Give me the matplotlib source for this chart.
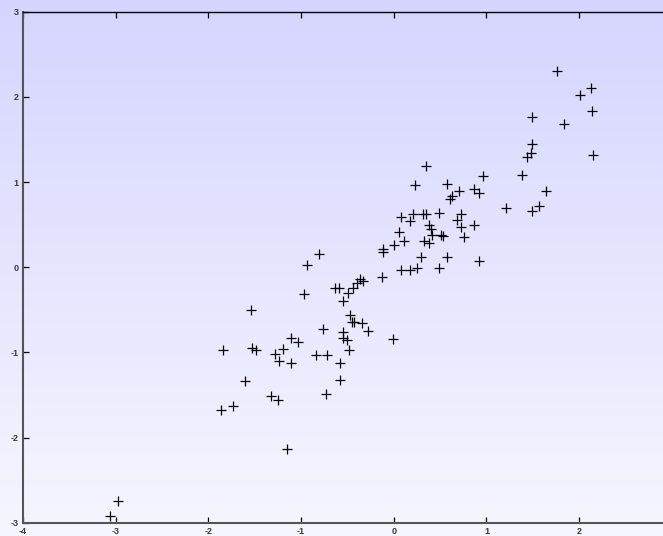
import numpy as np
import matplotlib
matplotlib.use("Agg")
import matplotlib.pyplot as plt

x_vals = [-3.06, -2.97, -1.86, -1.73, -1.84, -1.54, -1.53, -1.49, -1.60, -1.28,
          -1.24, -1.19, -1.11, -1.11, -1.03, -1.33, -1.25, -1.15, -0.97, -0.94,
          -0.81, -0.76, -0.84, -0.72, -0.73, -0.63, -0.59, -0.58, -0.58, -0.49,
          -0.44, -0.40, -0.37, -0.33, -0.55, -0.47, -0.45, -0.43, -0.34, -0.28,
          -0.55, -0.55, -0.51, -0.48, -0.01, -0.13, -0.12, -0.12, 0.00, 0.11,
          0.06, 0.08, 0.21, 0.17, 0.32, 0.35, 0.49, 0.72, 0.68, 0.86,
          0.72, 0.76, 0.38, 0.40, 0.41, 0.51, 0.53, 0.33, 0.38, 0.29,
          0.57, 0.92, 0.08, 0.17, 0.25, 0.49, 0.35, 0.96, 1.38, 0.23,
          0.57, 0.70, 0.86, 0.92, 0.63, 0.61, 1.64, 1.21, 1.57, 1.49,
          1.49, 1.48, 1.44, 2.15, 1.76, 2.13, 2.01, 2.14, 1.49, 1.84]
y_vals = [-2.92, -2.75, -1.68, -1.63, -0.97, -0.50, -0.95, -0.97, -1.34, -1.02,
          -1.10, -0.96, -0.83, -1.12, -0.88, -1.51, -1.56, -2.13, -0.31, 0.03,
          0.15, -0.73, -1.03, -1.03, -1.49, -0.24, -0.24, -1.12, -1.32, -0.30,
          -0.24, -0.19, -0.14, -0.16, -0.40, -0.56, -0.64, -0.64, -0.65, -0.75,
          -0.76, -0.83, -0.85, -0.97, -0.84, -0.12, 0.21, 0.18, 0.26, 0.31,
          0.41, 0.59, 0.62, 0.54, 0.62, 0.62, 0.64, 0.62, 0.55, 0.50,
          0.47, 0.35, 0.50, 0.45, 0.38, 0.38, 0.37, 0.31, 0.28, 0.12,
          0.12, 0.07, -0.03, -0.03, -0.01, -0.01, 1.19, 1.07, 1.08, 0.97,
          0.98, 0.89, 0.92, 0.87, 0.84, 0.80, 0.89, 0.70, 0.72, 0.66,
          1.45, 1.34, 1.29, 1.32, 2.30, 2.10, 2.02, 1.83, 1.76, 1.68]
x_ticks = [-4, -3, -2, -1, 0, 1, 2]
y_ticks = [-3, -2, -1, 0, 1, 2, 3]

plt.rcParams["font.family"] = ["Liberation Sans", "DejaVu Sans"]
plt.rcParams["axes.unicode_minus"] = False

W, H = 663, 536
fig = plt.figure(figsize=(W / 100, H / 100), dpi=100)

# background gradient over the whole figure
bg = fig.add_axes([0, 0, 1, 1], zorder=0)
top = np.array([213, 213, 255]) / 255.0
bot = np.array([246, 246, 255]) / 255.0
t = np.linspace(0, 1, 256)[:, None]
grad = (top[None, :] * (1 - t) + bot[None, :] * t)[:, None, :]
bg.imshow(grad, aspect="auto", extent=[0, 1, 0, 1], interpolation="bilinear")
bg.set_axis_off()

left_px, right_px = 23, 23 + 7 * 92.7
top_px, bot_px = 11.7, 522.7
ax = fig.add_axes([left_px / W, (H - bot_px) / H, (right_px - left_px) / W, (bot_px - top_px) / H], zorder=1)
ax.patch.set_alpha(0)

ax.plot(x_vals, y_vals, linestyle="none", marker="+", markersize=7, markeredgewidth=0.9, color="black")

ax.set_xlim(-4, 3)
ax.set_ylim(-3, 3)
ax.set_xticks(x_ticks)
ax.set_yticks(y_ticks)
ax.tick_params(direction="in", length=4.5, width=0.9, color="black", top=True, right=False,
               labelsize=6.5, labelcolor="#3a3a3a", pad=3)
for lab in ax.get_xticklabels() + ax.get_yticklabels():
    lab.set_fontweight("bold")
ax.spines["right"].set_visible(False)
ax.spines["top"].set_color("black")
ax.spines["top"].set_linewidth(1.0)
ax.spines["left"].set_color("#555555")
ax.spines["left"].set_linewidth(1.5)
ax.spines["bottom"].set_color("#555555")
ax.spines["bottom"].set_linewidth(1.5)

fig.savefig("out.png", dpi=100)
